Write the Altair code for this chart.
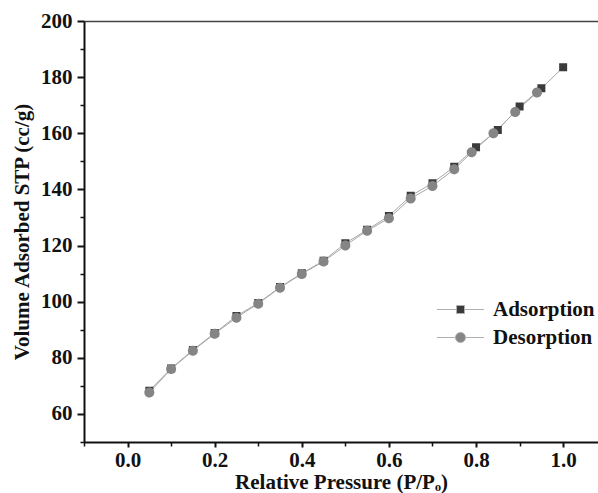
import altair as alt
import pandas as pd

# ---- data ----
ads_x = [0.05, 0.10, 0.15, 0.20, 0.25, 0.30, 0.35, 0.40, 0.45, 0.50, 0.55, 0.60,
         0.65, 0.70, 0.75, 0.80, 0.85, 0.90, 0.95, 1.00]
ads_y = [68.3, 76.2, 82.8, 88.8, 94.9, 99.5, 105.2, 110.1, 114.6, 120.8, 125.6, 130.5,
         137.7, 142.2, 148.1, 155.0, 161.2, 169.5, 176.0, 183.5]
des_x = [0.05, 0.10, 0.15, 0.20, 0.25, 0.30, 0.35, 0.40, 0.45, 0.50, 0.55, 0.60,
         0.65, 0.70, 0.75, 0.79, 0.84, 0.89, 0.94]
des_y = [67.6, 76.0, 82.5, 88.6, 94.3, 99.3, 105.0, 109.9, 114.3, 120.0, 125.3, 129.7,
         136.8, 141.2, 147.2, 153.2, 160.0, 167.6, 174.5]

series_names = ["Adsorption", "Desorption"]
x_major = [0.0, 0.2, 0.4, 0.6, 0.8, 1.0]
x_minor = [-0.1, 0.1, 0.3, 0.5, 0.7, 0.9]
y_major = [60, 80, 100, 120, 140, 160, 180, 200]
y_minor = [50, 70, 90, 110, 130, 150, 170, 190]

df = pd.concat([
    pd.DataFrame({"p": ads_x, "v": ads_y, "series": series_names[0]}),
    pd.DataFrame({"p": des_x, "v": des_y, "series": series_names[1]}),
])

FONT = "Liberation Serif"
xs = alt.Scale(domain=[-0.1, 1.08], nice=False, zero=False)
ys = alt.Scale(domain=[50, 200], nice=False, zero=False)

square = "M-0.8,-0.8H0.8V0.8H-0.8Z M-4.7,0H-0.8 M0.8,0H4.7"
circle = "M-1,0A1,1,0,1,0,1,0A1,1,0,1,0,-1,0Z M-4.7,0H-1 M1,0H4.7"

x_axis = alt.Axis(values=x_major, format=".1f", tickSize=5, tickWidth=2, domainWidth=2,
                  domainColor="#111", tickColor="#111", labelFont=FONT, labelFontSize=21,
                  labelFontWeight="bold", labelColor="#111", labelPadding=2, grid=False,
                  orient="bottom",
                  title="Relative Pressure (P/Pₒ)", titleFont=FONT, titleFontSize=21,
                  titleFontWeight="bold", titleColor="#111", titlePadding=1)
y_axis = alt.Axis(values=y_major, tickSize=7, tickWidth=2, domainWidth=2,
                  domainColor="#111", tickColor="#111", labelFont=FONT, labelFontSize=21,
                  labelFontWeight="bold", labelColor="#111", labelPadding=5, grid=False,
                  orient="left",
                  title="Volume Adsorbed STP (cc/g)", titleFont=FONT, titleFontSize=21,
                  titleFontWeight="bold", titleColor="#111", titlePadding=8)

legend = alt.Legend(title=None, orient="none", legendX=366, legendY=278,
                    labelFont=FONT, labelFontSize=21, labelFontWeight="bold",
                    labelColor="#111", labelOffset=22, symbolSize=100,
                    symbolStrokeColor="#b0b0b0", symbolStrokeWidth=1,
                    rowPadding=6, padding=0)

line = alt.Chart(df).mark_line(color="#a8a8a8", strokeWidth=1).encode(
    x=alt.X("p:Q", scale=xs, axis=x_axis),
    y=alt.Y("v:Q", scale=ys, axis=y_axis),
    detail="series:N",
)

pts = alt.Chart(df).mark_point(filled=True, size=100, opacity=1, strokeWidth=1).encode(
    x=alt.X("p:Q", scale=xs, axis=None),
    y=alt.Y("v:Q", scale=ys, axis=None),
    color=alt.Color("series:N", scale=alt.Scale(domain=series_names, range=["#3a3a3a", "#858585"]),
                    legend=legend),
    shape=alt.Shape("series:N", scale=alt.Scale(domain=series_names, range=[square, circle]),
                    legend=legend),
)

minor = alt.Chart(df).mark_point(opacity=0).encode(
    x=alt.X("p:Q", scale=xs, axis=alt.Axis(values=x_minor, labels=False, domain=False, grid=False,
                                           tickSize=4, tickWidth=1.5, tickColor="#111", title=None,
                                           orient="bottom")),
    y=alt.Y("v:Q", scale=ys, axis=alt.Axis(values=y_minor, labels=False, domain=False, grid=False,
                                           tickSize=4, tickWidth=1.5, tickColor="#111", title=None,
                                           orient="left")),
)

top = alt.Chart(df).mark_point(opacity=0).encode(
    x=alt.X("p:Q", scale=xs, axis=alt.Axis(orient="top", labels=False, ticks=False, grid=False,
                                           domainColor="#444", domainWidth=1.5, title=None)),
    y=alt.Y("v:Q", scale=ys, axis=None),
)

chart = alt.layer(line, pts, minor, top).resolve_axis(x="independent", y="independent").properties(
    width=514, height=421, autosize="none",
    padding={"left": 84, "top": 21, "right": 0, "bottom": 51},
).configure_view(stroke=None).configure(background="white")

chart.save("out.html", embed_options={"renderer": "svg", "actions": False})
